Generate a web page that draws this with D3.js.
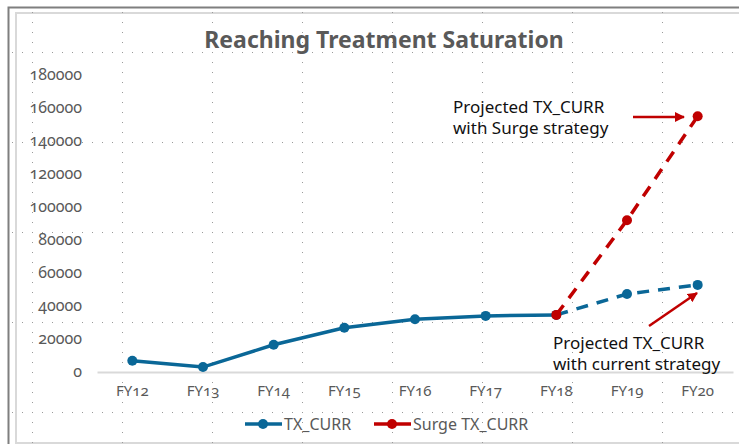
<!DOCTYPE html>
<html>
<head>
<meta charset="utf-8">
<script src="https://cdn.jsdelivr.net/npm/d3@7"></script>
<style>
  body { margin: 0; background: #fff; }
  svg { display: block; font-family: "Noto Sans", sans-serif; }
  .num { font-feature-settings: "onum" 1; font-variant-numeric: oldstyle-nums; }
</style>
</head>
<body>
<div id="chart"></div>
<script>
/* DATA */
const years = ["FY12", "FY13", "FY14", "FY15", "FY16", "FY17", "FY18", "FY19", "FY20"];
const txCurr = [6800, 3000, 16500, 26800, 32000, 34000, 34600, 47300, 52800];
const surgeTx = [null, null, null, null, null, null, 34600, 92000, 155000];
const yTicks = [0, 20000, 40000, 60000, 80000, 100000, 120000, 140000, 160000, 180000];
const lastActual = "FY18";

const width = 739, height = 444;
const blue = "#0a6797", red = "#c00000";

const svg = d3.select("#chart").append("svg")
  .attr("width", width).attr("height", height);

// frame
svg.append("path").attr("d", `M8.5,${height} V7.5 H${width}`)
  .attr("fill", "none").attr("stroke", "#7f7f7f").attr("stroke-width", 2);
svg.append("path").attr("d", `M16,${height} V13 H${width}`)
  .attr("fill", "none").attr("stroke", "#d9d9d9").attr("stroke-width", 2);
svg.append("line").attr("x1", 16).attr("x2", width).attr("y1", 443).attr("y2", 443)
  .attr("stroke", "#d9d9d9").attr("stroke-width", 2);

// dotted background grid
const gridG = svg.append("g").attr("stroke", "#9a9a9a").attr("stroke-width", 1)
  .attr("stroke-dasharray", "1,9");
d3.range(32, width, 90).forEach(x => {
  gridG.append("line").attr("x1", x + 0.5).attr("x2", x + 0.5).attr("y1", 12).attr("y2", height);
});
d3.range(52, height, 90).forEach(y => {
  gridG.append("line").attr("x1", 12).attr("x2", width).attr("y1", y + 0.5).attr("y2", y + 0.5);
});

// scales
const x = d3.scaleBand().domain(years).range([97, 733]);
const cx = d => x(d) + x.bandwidth() / 2;
const y = d3.scaleLinear().domain([0, 180000]).range([372, 75]);

// title
svg.append("text").attr("x", 384).attr("y", 48).attr("text-anchor", "middle")
  .attr("font-size", 23).attr("font-weight", 700).attr("fill", "#595959")
  .text("Reaching Treatment Saturation");

// y axis labels
svg.append("g").attr("class", "num")
  .selectAll("text").data(yTicks).join("text")
  .attr("x", 82).attr("y", d => y(d)).attr("dy", "0.3em")
  .attr("text-anchor", "end").attr("font-size", 16).attr("fill", "#595959")
  .text(d => d);

// x axis
const xAxis = d3.axisBottom(x).tickSize(0).tickPadding(13);
const xg = svg.append("g").attr("transform", `translate(0,${y(0)})`).call(xAxis);
xg.select(".domain").attr("stroke", "#d9d9d9").attr("stroke-width", 2);
xg.selectAll("text").attr("class", "num").attr("font-size", 15)
  .attr("fill", "#595959").attr("font-family", "Noto Sans, sans-serif");

// lines
const line = d3.line().defined(d => d.v != null).x(d => cx(d.k)).y(d => y(d.v));
const blueData = years.map((k, i) => ({ k, v: txCurr[i] }));
const redData = years.map((k, i) => ({ k, v: surgeTx[i] }));
const cut = years.indexOf(lastActual);

svg.append("path").datum(blueData.slice(0, cut + 1)).attr("d", line)
  .attr("fill", "none").attr("stroke", blue).attr("stroke-width", 3.5);
svg.append("path").datum(blueData.slice(cut)).attr("d", line)
  .attr("fill", "none").attr("stroke", blue).attr("stroke-width", 3.5)
  .attr("stroke-dasharray", "12,9");
svg.append("g").selectAll("circle").data(blueData).join("circle")
  .attr("cx", d => cx(d.k)).attr("cy", d => y(d.v)).attr("r", 5).attr("fill", blue);

svg.append("path").datum(redData).attr("d", line)
  .attr("fill", "none").attr("stroke", red).attr("stroke-width", 3.5)
  .attr("stroke-dasharray", "12,9");
svg.append("g").selectAll("circle").data(redData.filter(d => d.v != null)).join("circle")
  .attr("cx", d => cx(d.k)).attr("cy", d => y(d.v)).attr("r", 5).attr("fill", red);

// annotations
svg.append("defs").append("marker").attr("id", "arr")
  .attr("viewBox", "0 0 10 10").attr("refX", 9).attr("refY", 5)
  .attr("markerWidth", 4).attr("markerHeight", 4).attr("orient", "auto")
  .append("path").attr("d", "M0,0 L10,5 L0,10 Z").attr("fill", red);

const note = (tx, ty, lines) => {
  const t = svg.append("text").attr("x", tx).attr("y", ty)
    .attr("font-size", 17).attr("fill", "#111");
  lines.forEach((s, i) => t.append("tspan").attr("x", tx).attr("dy", i ? 21 : 0).text(s));
};
note(453, 113, ["Projected TX_CURR", "with Surge strategy"]);
note(553, 349, ["Projected TX_CURR", "with current strategy"]);

svg.append("line").attr("x1", 633).attr("y1", 117).attr("x2", 684).attr("y2", 117)
  .attr("stroke", red).attr("stroke-width", 2.5).attr("marker-end", "url(#arr)");
svg.append("line").attr("x1", 649).attr("y1", 326).attr("x2", 697).attr("y2", 293)
  .attr("stroke", red).attr("stroke-width", 2.5).attr("marker-end", "url(#arr)");

// legend
const legend = [{ name: "TX_CURR", color: blue, x: 245 }, { name: "Surge TX_CURR", color: red, x: 374 }];
const lg = svg.append("g").selectAll("g").data(legend).join("g")
  .attr("transform", d => `translate(${d.x},424)`);
lg.append("line").attr("x1", 0).attr("x2", 37).attr("stroke", d => d.color).attr("stroke-width", 3.5);
lg.append("circle").attr("cx", 18).attr("r", 5).attr("fill", d => d.color);
lg.append("text").attr("x", 39).attr("dy", "0.35em").attr("font-size", 16)
  .attr("fill", "#595959").text(d => d.name);
</script>
</body>
</html>
